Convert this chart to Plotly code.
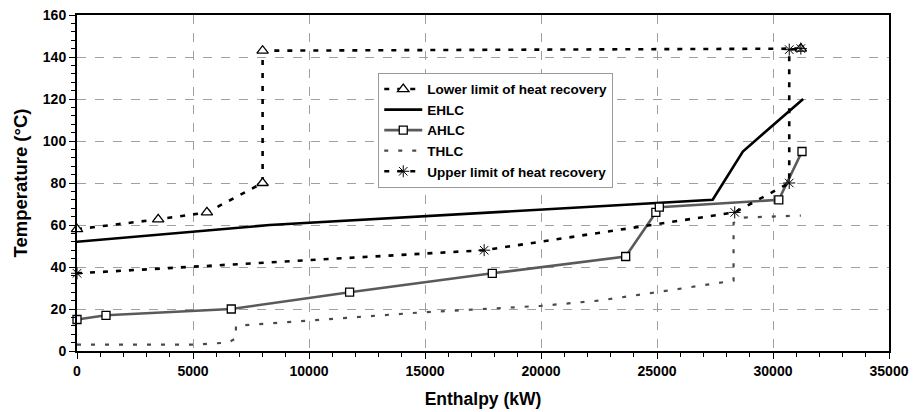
import plotly.graph_objects as go

# Data (Enthalpy kW, Temperature °C)
lower_x = [0, 3500, 5600, 8000, 8000, 31200]
lower_y = [58, 62.7, 66, 80, 143, 144]

ehlc_x = [0, 8300, 27400, 28700, 31300]
ehlc_y = [52, 60, 72, 95, 120]

ahlc_x = [0, 1250, 6650, 11750, 17900, 23650, 24950, 25100, 30250, 31250]
ahlc_y = [15, 17, 20, 28, 37, 45, 66, 68.5, 72, 95]

thlc_x = [0, 5000, 6500, 6850, 6850, 15000, 20000, 22500, 25000, 28300, 28300, 28700, 31200]
thlc_y = [3, 3, 4, 6, 12, 18.5, 21.5, 24, 28, 33.5, 61, 63.5, 64.5]

upper_x = [0, 17550, 28350, 30700, 30700, 31200]
upper_y = [37, 48, 66, 80, 143.5, 144]

FONT = "Liberation Sans, Arial, sans-serif"

fig = go.Figure()

fig.add_trace(go.Scatter(
    x=lower_x, y=lower_y, name="Lower limit of heat recovery",
    mode="lines+markers", cliponaxis=False,
    line=dict(color="black", width=2.6, dash="5px,8px"),
    marker=dict(symbol="triangle-up", size=10, color="white",
                line=dict(color="black", width=1.3))))

fig.add_trace(go.Scatter(
    x=ehlc_x, y=ehlc_y, name="EHLC", mode="lines", cliponaxis=False,
    line=dict(color="black", width=2.6)))

fig.add_trace(go.Scatter(
    x=ahlc_x, y=ahlc_y, name="AHLC", mode="lines+markers", cliponaxis=False,
    line=dict(color="#5a5a5a", width=2.6),
    marker=dict(symbol="square", size=8, color="white",
                line=dict(color="black", width=1.3))))

fig.add_trace(go.Scatter(
    x=thlc_x, y=thlc_y, name="THLC", mode="lines", cliponaxis=False,
    line=dict(color="#4a4a4a", width=2.2, dash="4px,10px")))

fig.add_trace(go.Scatter(
    x=upper_x, y=upper_y, name="Upper limit of heat recovery",
    mode="lines+markers", cliponaxis=False,
    line=dict(color="black", width=2.6, dash="5px,8px"),
    marker=dict(symbol="asterisk-open", size=10,
                line=dict(color="#333333", width=1))))

axis_common = dict(
    showline=True, linecolor="black", linewidth=2, mirror=True,
    showgrid=True, gridcolor="#a0a0a0", gridwidth=1, griddash="dash",
    zeroline=False, ticks="outside", ticklen=6, tickcolor="black",
    automargin=False,
    tickfont=dict(family=FONT, size=14, color="black", weight="bold"),
)

fig.update_xaxes(
    range=[0, 35000], dtick=5000, tick0=0, tickformat="d",
    minor=dict(dtick=1000, ticks="outside", ticklen=4, tickcolor="black", showgrid=False),
    title=dict(text="Enthalpy (kW)", font=dict(family=FONT, size=17.5, color="black", weight="bold"),
               standoff=15),
    **axis_common)

fig.update_yaxes(
    range=[0, 160], dtick=20, tick0=0,
    minor=dict(dtick=4, ticks="outside", ticklen=4, tickcolor="black", showgrid=False),
    title=dict(text="Temperature (°C)", font=dict(family=FONT, size=18.5, color="black", weight="bold"),
               standoff=10),
    **axis_common)

fig.update_layout(
    width=918, height=412,
    margin=dict(l=77, r=29, t=15, b=61),
    paper_bgcolor="white", plot_bgcolor="white",
    showlegend=True,
    legend=dict(x=0.371, y=0.828, xanchor="left", yanchor="top",
                bgcolor="white", bordercolor="#999999", borderwidth=1,
                itemwidth=38,
                font=dict(family=FONT, size=13.5, color="black", weight="bold"),
                tracegroupgap=0),
)

fig.write_html("out.html")
